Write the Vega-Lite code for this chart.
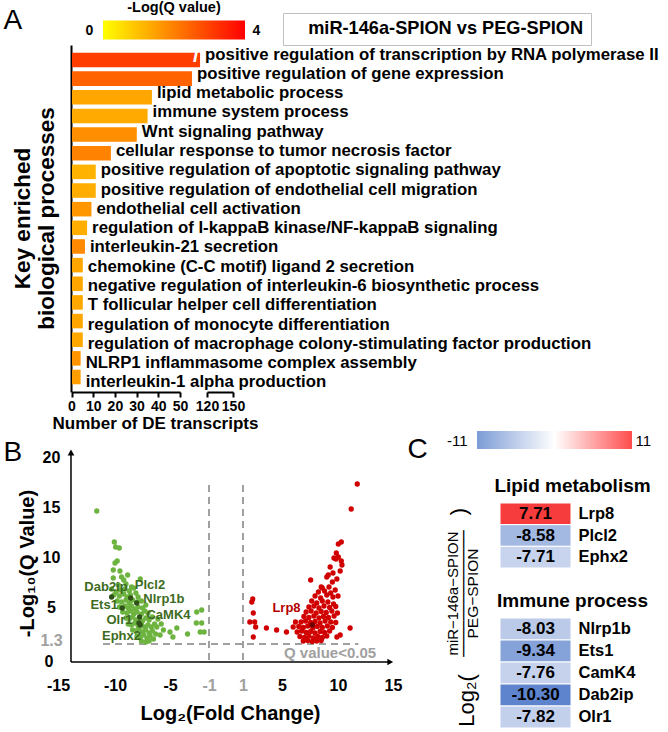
{
"$schema": "https://vega.github.io/schema/vega-lite/v6.json",
"width": 668, "height": 732, "autosize": "none", "padding": 0, "background": "white",
"config": {"view": {"stroke": null}, "font": "Liberation Sans",
  "axis": {"grid": false, "titleColor": "black", "labelColor": "black", "domainColor": "black"},
  "legend": {"titleColor": "black", "labelColor": "black"}},
"datasets": {
 "bars": [
  {"term":"positive regulation of transcription by RNA polymerase II","n":102,"q":3.05},
  {"term":"positive regulation of gene expression","n":81,"q":2.45},
  {"term":"lipid metabolic process","n":37,"q":1.4},
  {"term":"immune system process","n":35,"q":1.33},
  {"term":"Wnt signaling pathway","n":30,"q":1.75},
  {"term":"cellular response to tumor necrosis factor","n":18,"q":1.95},
  {"term":"positive regulation of apoptotic signaling pathway","n":11,"q":1.2},
  {"term":"positive regulation of endothelial cell migration","n":11,"q":1.28},
  {"term":"endothelial cell activation","n":9,"q":1.65},
  {"term":"regulation of I-kappaB kinase/NF-kappaB signaling","n":7,"q":1.27},
  {"term":"interleukin-21 secretion","n":6,"q":1.85},
  {"term":"chemokine (C-C motif) ligand 2 secretion","n":5,"q":1.38},
  {"term":"negative regulation of interleukin-6 biosynthetic process","n":5,"q":1.38},
  {"term":"T follicular helper cell differentiation","n":5,"q":1.35},
  {"term":"regulation of monocyte differentiation","n":5,"q":1.38},
  {"term":"regulation of macrophage colony-stimulating factor production","n":5,"q":1.35},
  {"term":"NLRP1 inflammasome complex assembly","n":4,"q":1.7},
  {"term":"interleukin-1 alpha production","n":4,"q":1.52}
 ],
 "pts": [
  {"lfc":-11.6,"nlq":14.6,"grp":"down"},{"lfc":-10.06,"nlq":11.5,"grp":"down"},{"lfc":-9.94,"nlq":11.0,"grp":"down"},{"lfc":-9.61,"nlq":10.9,"grp":"down"},
  {"lfc":-9.8,"nlq":9.6,"grp":"down"},{"lfc":-10.0,"nlq":9.4,"grp":"down"},{"lfc":-10.15,"nlq":8.7,"grp":"down"},{"lfc":-9.55,"nlq":8.6,"grp":"down"},
  {"lfc":-10.15,"nlq":7.9,"grp":"down"},{"lfc":-9.4,"nlq":8.0,"grp":"down"},{"lfc":-9.2,"nlq":7.7,"grp":"down"},{"lfc":-8.85,"nlq":8.2,"grp":"down"},
  {"lfc":-7.7,"nlq":7.8,"grp":"down"},{"lfc":-8.5,"nlq":7.0,"grp":"down"},{"lfc":-9.0,"nlq":7.3,"grp":"down"},{"lfc":-9.7,"nlq":7.2,"grp":"down"},
  {"lfc":-10.3,"nlq":6.8,"grp":"down"},{"lfc":-9.9,"nlq":6.5,"grp":"down"},{"lfc":-9.5,"nlq":6.7,"grp":"down"},{"lfc":-9.1,"nlq":6.8,"grp":"down"},
  {"lfc":-8.7,"nlq":6.6,"grp":"down"},{"lfc":-8.3,"nlq":6.9,"grp":"down"},{"lfc":-10.1,"nlq":6.2,"grp":"down"},{"lfc":-9.6,"nlq":6.1,"grp":"down"},
  {"lfc":-9.2,"nlq":6.3,"grp":"down"},{"lfc":-8.9,"nlq":6.0,"grp":"down"},{"lfc":-8.6,"nlq":6.2,"grp":"down"},{"lfc":-8.1,"nlq":6.4,"grp":"down"},
  {"lfc":-7.9,"nlq":6.0,"grp":"down"},{"lfc":-9.8,"nlq":5.6,"grp":"down"},{"lfc":-9.4,"nlq":5.5,"grp":"down"},{"lfc":-9.0,"nlq":5.7,"grp":"down"},
  {"lfc":-8.7,"nlq":5.4,"grp":"down"},{"lfc":-8.4,"nlq":5.7,"grp":"down"},{"lfc":-8.0,"nlq":5.5,"grp":"down"},{"lfc":-7.6,"nlq":5.6,"grp":"down"},
  {"lfc":-9.6,"nlq":5.0,"grp":"down"},{"lfc":-9.1,"nlq":5.1,"grp":"down"},{"lfc":-8.8,"nlq":4.9,"grp":"down"},{"lfc":-8.5,"nlq":5.1,"grp":"down"},
  {"lfc":-8.2,"nlq":4.8,"grp":"down"},{"lfc":-7.9,"nlq":5.0,"grp":"down"},{"lfc":-7.5,"nlq":4.9,"grp":"down"},{"lfc":-7.2,"nlq":5.2,"grp":"down"},
  {"lfc":-9.3,"nlq":4.5,"grp":"down"},{"lfc":-8.9,"nlq":4.4,"grp":"down"},{"lfc":-8.6,"nlq":4.6,"grp":"down"},{"lfc":-8.3,"nlq":4.3,"grp":"down"},
  {"lfc":-8.0,"nlq":4.5,"grp":"down"},{"lfc":-7.6,"nlq":4.3,"grp":"down"},{"lfc":-7.3,"nlq":4.6,"grp":"down"},{"lfc":-7.0,"nlq":4.4,"grp":"down"},
  {"lfc":-9.0,"nlq":3.9,"grp":"down"},{"lfc":-8.7,"nlq":3.8,"grp":"down"},{"lfc":-8.4,"nlq":4.0,"grp":"down"},{"lfc":-8.1,"nlq":3.7,"grp":"down"},
  {"lfc":-7.8,"nlq":3.9,"grp":"down"},{"lfc":-7.5,"nlq":3.6,"grp":"down"},{"lfc":-7.2,"nlq":3.9,"grp":"down"},{"lfc":-6.9,"nlq":3.7,"grp":"down"},
  {"lfc":-6.6,"nlq":4.0,"grp":"down"},{"lfc":-8.8,"nlq":3.3,"grp":"down"},{"lfc":-8.5,"nlq":3.2,"grp":"down"},{"lfc":-8.2,"nlq":3.4,"grp":"down"},
  {"lfc":-7.9,"nlq":3.1,"grp":"down"},{"lfc":-7.6,"nlq":3.3,"grp":"down"},{"lfc":-7.3,"nlq":3.0,"grp":"down"},{"lfc":-7.0,"nlq":3.2,"grp":"down"},
  {"lfc":-6.7,"nlq":3.0,"grp":"down"},{"lfc":-6.4,"nlq":3.3,"grp":"down"},{"lfc":-8.4,"nlq":2.7,"grp":"down"},{"lfc":-8.1,"nlq":2.6,"grp":"down"},
  {"lfc":-7.8,"nlq":2.8,"grp":"down"},{"lfc":-7.5,"nlq":2.5,"grp":"down"},{"lfc":-7.2,"nlq":2.7,"grp":"down"},{"lfc":-6.9,"nlq":2.4,"grp":"down"},
  {"lfc":-6.6,"nlq":2.6,"grp":"down"},{"lfc":-6.3,"nlq":2.3,"grp":"down"},{"lfc":-8.0,"nlq":2.1,"grp":"down"},{"lfc":-7.7,"nlq":2.0,"grp":"down"},
  {"lfc":-7.4,"nlq":2.2,"grp":"down"},{"lfc":-7.1,"nlq":1.9,"grp":"down"},{"lfc":-6.8,"nlq":2.1,"grp":"down"},{"lfc":-6.5,"nlq":1.8,"grp":"down"},
  {"lfc":-7.6,"nlq":1.6,"grp":"down"},{"lfc":-7.2,"nlq":1.5,"grp":"down"},{"lfc":-6.9,"nlq":1.6,"grp":"down"},{"lfc":-6.2,"nlq":3.0,"grp":"down"},
  {"lfc":-5.6,"nlq":2.7,"grp":"down"},{"lfc":-5.0,"nlq":2.5,"grp":"down"},{"lfc":-4.3,"nlq":2.9,"grp":"down"},{"lfc":-5.9,"nlq":2.2,"grp":"down"},
  {"lfc":-4.7,"nlq":2.0,"grp":"down"},{"lfc":-2.26,"nlq":4.5,"grp":"down"},{"lfc":-1.75,"nlq":4.7,"grp":"down"},{"lfc":-2.3,"nlq":3.4,"grp":"down"},
  {"lfc":-1.75,"nlq":3.4,"grp":"down"},{"lfc":-1.9,"nlq":2.5,"grp":"down"},{"lfc":-1.5,"nlq":2.5,"grp":"down"},{"lfc":-3.2,"nlq":2.3,"grp":"down"},
  {"lfc":-6.1,"nlq":3.8,"grp":"down"},{"lfc":-5.8,"nlq":3.3,"grp":"down"},
  {"lfc":1.9,"nlq":5.5,"grp":"up"},{"lfc":2.0,"nlq":5.8,"grp":"up"},{"lfc":2.06,"nlq":4.4,"grp":"up"},{"lfc":2.2,"nlq":3.5,"grp":"up"},
  {"lfc":1.7,"nlq":3.5,"grp":"up"},{"lfc":2.3,"nlq":3.0,"grp":"up"},{"lfc":3.4,"nlq":2.9,"grp":"up"},{"lfc":4.45,"nlq":2.7,"grp":"up"},
  {"lfc":5.4,"nlq":2.5,"grp":"up"},{"lfc":6.0,"nlq":3.0,"grp":"up"},{"lfc":6.2,"nlq":3.5,"grp":"up"},{"lfc":2.06,"nlq":2.0,"grp":"up"},
  {"lfc":11.1,"nlq":2.9,"grp":"up"},{"lfc":10.2,"nlq":2.2,"grp":"up"},{"lfc":9.9,"nlq":2.0,"grp":"up"},
  {"lfc":11.75,"nlq":17.3,"grp":"up"},{"lfc":11.2,"nlq":14.8,"grp":"up"},{"lfc":10.03,"nlq":11.3,"grp":"up"},{"lfc":10.3,"nlq":11.5,"grp":"up"},
  {"lfc":9.85,"nlq":10.4,"grp":"up"},{"lfc":9.64,"nlq":9.9,"grp":"up"},{"lfc":9.82,"nlq":9.8,"grp":"up"},{"lfc":10.03,"nlq":10.0,"grp":"up"},
  {"lfc":10.3,"nlq":9.6,"grp":"up"},{"lfc":9.3,"nlq":9.0,"grp":"up"},{"lfc":10.2,"nlq":8.6,"grp":"up"},{"lfc":9.13,"nlq":8.2,"grp":"up"},
  {"lfc":9.0,"nlq":8.0,"grp":"up"},{"lfc":9.9,"nlq":7.8,"grp":"up"},{"lfc":9.5,"nlq":7.5,"grp":"up"},{"lfc":7.56,"nlq":7.7,"grp":"up"},
  {"lfc":8.5,"nlq":7.0,"grp":"up"},{"lfc":8.6,"nlq":6.9,"grp":"up"},{"lfc":9.2,"nlq":7.0,"grp":"up"},{"lfc":9.55,"nlq":8.4,"grp":"up"},
  {"lfc":10.36,"nlq":9.2,"grp":"up"},
  {"lfc":8.25,"nlq":6.5,"grp":"up"},{"lfc":8.8,"nlq":6.6,"grp":"up"},{"lfc":9.35,"nlq":6.4,"grp":"up"},{"lfc":9.75,"nlq":6.7,"grp":"up"},
  {"lfc":7.95,"nlq":6.1,"grp":"up"},{"lfc":8.45,"nlq":5.9,"grp":"up"},{"lfc":9.0,"nlq":6.2,"grp":"up"},{"lfc":9.55,"nlq":6.0,"grp":"up"},
  {"lfc":10.0,"nlq":6.1,"grp":"up"},{"lfc":7.65,"nlq":5.6,"grp":"up"},{"lfc":8.1,"nlq":5.4,"grp":"up"},{"lfc":8.6,"nlq":5.6,"grp":"up"},
  {"lfc":9.1,"nlq":5.5,"grp":"up"},{"lfc":9.6,"nlq":5.3,"grp":"up"},{"lfc":7.4,"nlq":5.0,"grp":"up"},{"lfc":7.85,"nlq":5.1,"grp":"up"},
  {"lfc":8.3,"nlq":4.9,"grp":"up"},{"lfc":8.75,"nlq":5.1,"grp":"up"},{"lfc":9.25,"nlq":4.95,"grp":"up"},{"lfc":9.8,"nlq":5.05,"grp":"up"},
  {"lfc":7.15,"nlq":4.5,"grp":"up"},{"lfc":7.6,"nlq":4.6,"grp":"up"},{"lfc":8.05,"nlq":4.4,"grp":"up"},{"lfc":8.5,"nlq":4.55,"grp":"up"},
  {"lfc":8.95,"nlq":4.45,"grp":"up"},{"lfc":9.45,"nlq":4.6,"grp":"up"},{"lfc":9.95,"nlq":4.4,"grp":"up"},{"lfc":6.95,"nlq":4.05,"grp":"up"},
  {"lfc":7.4,"nlq":3.95,"grp":"up"},{"lfc":7.85,"nlq":4.1,"grp":"up"},{"lfc":8.3,"nlq":3.9,"grp":"up"},{"lfc":8.7,"nlq":4.05,"grp":"up"},
  {"lfc":9.15,"nlq":3.95,"grp":"up"},{"lfc":9.65,"nlq":4.1,"grp":"up"},{"lfc":6.7,"nlq":3.5,"grp":"up"},{"lfc":7.1,"nlq":3.6,"grp":"up"},
  {"lfc":7.55,"nlq":3.45,"grp":"up"},{"lfc":7.95,"nlq":3.55,"grp":"up"},{"lfc":8.4,"nlq":3.4,"grp":"up"},{"lfc":8.85,"nlq":3.6,"grp":"up"},
  {"lfc":9.35,"nlq":3.5,"grp":"up"},{"lfc":9.8,"nlq":3.45,"grp":"up"},{"lfc":6.5,"nlq":3.05,"grp":"up"},{"lfc":6.9,"nlq":2.95,"grp":"up"},
  {"lfc":7.3,"nlq":3.1,"grp":"up"},{"lfc":7.75,"nlq":2.9,"grp":"up"},{"lfc":8.15,"nlq":3.05,"grp":"up"},{"lfc":8.6,"nlq":2.95,"grp":"up"},
  {"lfc":9.05,"nlq":3.1,"grp":"up"},{"lfc":9.5,"nlq":2.95,"grp":"up"},{"lfc":6.35,"nlq":2.5,"grp":"up"},{"lfc":6.75,"nlq":2.6,"grp":"up"},
  {"lfc":7.15,"nlq":2.45,"grp":"up"},{"lfc":7.55,"nlq":2.55,"grp":"up"},{"lfc":7.95,"nlq":2.4,"grp":"up"},{"lfc":8.4,"nlq":2.55,"grp":"up"},
  {"lfc":8.8,"nlq":2.45,"grp":"up"},{"lfc":9.25,"nlq":2.6,"grp":"up"},{"lfc":6.6,"nlq":2.05,"grp":"up"},{"lfc":7.0,"nlq":1.95,"grp":"up"},
  {"lfc":7.4,"nlq":2.1,"grp":"up"},{"lfc":7.8,"nlq":1.9,"grp":"up"},{"lfc":8.2,"nlq":2.05,"grp":"up"},{"lfc":8.6,"nlq":1.95,"grp":"up"},
  {"lfc":9.0,"nlq":2.1,"grp":"up"},{"lfc":6.9,"nlq":1.6,"grp":"up"},{"lfc":7.3,"nlq":1.65,"grp":"up"},{"lfc":7.7,"nlq":1.55,"grp":"up"},
  {"lfc":8.1,"nlq":1.6,"grp":"up"},{"lfc":8.5,"nlq":1.65,"grp":"up"},
  {"lfc":-10.30,"nlq":6.0,"grp":"downKey","gene":"Dab2ip"},{"lfc":-8.58,"nlq":5.9,"grp":"downKey","gene":"Plcl2"},
  {"lfc":-8.03,"nlq":5.4,"grp":"downKey","gene":"Nlrp1b"},{"lfc":-9.34,"nlq":4.9,"grp":"downKey","gene":"Ets1"},
  {"lfc":-7.76,"nlq":4.0,"grp":"downKey","gene":"CaMK4"},{"lfc":-7.82,"nlq":3.4,"grp":"downKey","gene":"Olr1"},
  {"lfc":-7.71,"nlq":3.2,"grp":"downKey","gene":"Ephx2"},{"lfc":7.71,"nlq":3.2,"grp":"upKey","gene":"Lrp8"}
 ],
 "blab": [
  {"gene":"Dab2ip","lx":-10.79,"ly":7.0,"grp":"downKey"},
  {"gene":"Plcl2","lx":-6.82,"ly":7.2,"grp":"downKey"},
  {"gene":"Nlrp1b","lx":-5.55,"ly":5.8,"grp":"downKey"},
  {"gene":"Ets1","lx":-10.95,"ly":5.2,"grp":"downKey"},
  {"gene":"CaMK4","lx":-5.14,"ly":4.2,"grp":"downKey"},
  {"gene":"Olr1","lx":-9.59,"ly":3.7,"grp":"downKey"},
  {"gene":"Ephx2","lx":-9.41,"ly":2.15,"grp":"downKey"},
  {"gene":"Lrp8","lx":5.4,"ly":4.9,"grp":"upKey"}
 ],
 "lipid": [
  {"gene":"Lrp8","lfc":7.71,"grp":"Lipid metabolism"},
  {"gene":"Plcl2","lfc":-8.58,"grp":"Lipid metabolism"},
  {"gene":"Ephx2","lfc":-7.71,"grp":"Lipid metabolism"}
 ],
 "immune": [
  {"gene":"Nlrp1b","lfc":-8.03,"grp":"Immune process"},
  {"gene":"Ets1","lfc":-9.34,"grp":"Immune process"},
  {"gene":"CamK4","lfc":-7.76,"grp":"Immune process"},
  {"gene":"Dab2ip","lfc":-10.30,"grp":"Immune process"},
  {"gene":"Olr1","lfc":-7.82,"grp":"Immune process"}
 ]
},
"layer": [
 {"data": {"name": "bars"},
  "mark": {"type": "bar"},
  "encoding": {
   "y": {"field": "term", "type": "nominal", "sort": null,
     "scale": {"range": [45, 392], "paddingInner": 0.22, "paddingOuter": 0.414},
     "axis": {"orient": "left", "offset": -71, "domainColor": "black", "domainWidth": 2, "ticks": false, "labels": false,
       "title": ["Key enriched", "biological processes"], "titleFontSize": 22.5, "titleFontWeight": "bold", "titleX": -49, "titleY": 218,
       "titleAngle": -90, "titleAlign": "center", "titleBaseline": "middle", "titleLineHeight": 24}},
   "x": {"field": "n", "type": "quantitative", "scale": {"type": "linear", "domain": [0, 50, 120, 150], "range": [72, 180, 207, 233], "nice": false, "zero": false}, "axis": null},
   "color": {"field": "q", "type": "quantitative", "scale": {"type": "linear", "domain": [0, 4], "range": ["#ffff00", "#ff0000"], "interpolate": "rgb"},
     "legend": {"orient": "none", "legendX": 103, "legendY": 1, "direction": "horizontal", "title": "-Log(Q value)", "titleFontSize": 14.5, "titleFontWeight": "bold", "titleAnchor": "middle", "titlePadding": 5,
       "gradientLength": 142, "gradientThickness": 19, "gradientStrokeWidth": 0, "values": [0, 4], "labelExpr": "''", "labelOpacity": 0, "padding": 0}}
  }},
 {"data": {"name": "bars"},
  "mark": {"type": "text", "align": "left", "baseline": "middle", "dx": 5, "fontSize": 16.8, "fontWeight": "bold", "color": "black"},
  "encoding": {
   "y": {"field": "term", "type": "nominal", "sort": null, "scale": {"range": [45, 392], "paddingInner": 0.22, "paddingOuter": 0.414}, "axis": null},
   "x": {"field": "n", "type": "quantitative", "scale": {"type": "linear", "domain": [0, 50, 120, 150], "range": [72, 180, 207, 233], "nice": false, "zero": false}, "axis": null},
   "text": {"field": "term"}}},
 {"data": {"name": "bars"},
  "mark": {"type": "text", "align": "center", "baseline": "middle", "dx": -4, "fontSize": 22, "fontWeight": "bold", "color": "white"},
  "encoding": {
   "y": {"field": "term", "type": "nominal", "sort": null, "scale": {"range": [45, 392], "paddingInner": 0.22, "paddingOuter": 0.414}, "axis": null},
   "x": {"field": "n", "type": "quantitative", "scale": {"type": "linear", "domain": [0, 50, 120, 150], "range": [72, 180, 207, 233], "nice": false, "zero": false}, "axis": null},
   "text": {"condition": {"test": "datum.n > 100", "value": "/"}, "value": ""}}},
 {"data": {"values": [{"t": 0}, {"t": 50}]},
  "mark": {"type": "point", "opacity": 0, "size": 0},
  "encoding": {"x": {"field": "t", "type": "quantitative", "scale": {"domain": [0, 50], "range": [71.5, 180], "nice": false, "zero": false},
    "axis": {"orient": "bottom", "offset": -340, "values": [0, 10, 20, 30, 40, 50], "domainColor": "black", "domainWidth": 2, "tickColor": "black", "tickWidth": 2, "tickSize": 5,
      "labelFontSize": 14, "labelFontWeight": "bold", "labelPadding": 2, "labelFlush": false, "labelOverlap": false,
      "title": "Number of DE transcripts", "titleFontSize": 17, "titleFontWeight": "bold", "titleX": 155, "titleY": 31, "titleAlign": "center", "titleBaseline": "middle"}}}},
 {"data": {"values": [{"t": 120}, {"t": 150}]},
  "mark": {"type": "point", "opacity": 0, "size": 0},
  "encoding": {"x": {"field": "t", "type": "quantitative", "scale": {"domain": [120, 150], "range": [207, 233], "nice": false, "zero": false},
    "axis": {"orient": "bottom", "offset": -340, "values": [120, 150], "domainColor": "black", "domainWidth": 2, "tickColor": "black", "tickWidth": 2, "tickSize": 5,
      "labelFontSize": 14, "labelFontWeight": "bold", "labelPadding": 2, "labelFlush": false, "labelOverlap": false, "title": null}}}},
 {"data": {"values": [{"lfc": -1}, {"lfc": 1}]},
  "mark": {"type": "rule", "strokeDash": [7, 5], "strokeWidth": 2, "color": "#a0a0a0"},
  "encoding": {
   "x": {"field": "lfc", "type": "quantitative", "scale": {"type": "linear", "domain": [-15, -10, -5, -1, 1, 5, 10, 15], "range": [58, 115, 170, 209, 243, 282, 338, 393], "nice": false, "zero": false}, "axis": null},
   "y": {"datum": -0.3, "scale": {"type": "linear", "domain": [-0.5, 20.8], "range": [662, 449], "nice": false, "zero": false}, "axis": null},
   "y2": {"datum": 17.4}}},
 {"data": {"values": [{}]},
  "mark": {"type": "rule", "strokeDash": [7, 5], "strokeWidth": 2, "color": "#a0a0a0"},
  "encoding": {
   "x": {"datum": -11.05, "scale": {"type": "linear", "domain": [-15, -10, -5, -1, 1, 5, 10, 15], "range": [58, 115, 170, 209, 243, 282, 338, 393], "nice": false, "zero": false}, "axis": null},
   "x2": {"datum": 11.85},
   "y": {"datum": 1.3, "scale": {"type": "linear", "domain": [-0.5, 20.8], "range": [662, 449], "nice": false, "zero": false}, "axis": null}}},
 {"data": {"values": [{}]},
  "mark": {"type": "rule", "strokeWidth": 1.5, "color": "black"},
  "encoding": {
   "x": {"datum": -13.86, "scale": {"type": "linear", "domain": [-15, -10, -5, -1, 1, 5, 10, 15], "range": [58, 115, 170, 209, 243, 282, 338, 393], "nice": false, "zero": false}, "axis": null},
   "y": {"datum": -0.5, "scale": {"type": "linear", "domain": [-0.5, 20.8], "range": [662, 449], "nice": false, "zero": false}, "axis": null},
   "y2": {"datum": 20.3}}},
 {"data": {"values": [{}]},
  "mark": {"type": "rule", "strokeWidth": 1.5, "color": "black"},
  "encoding": {
   "x": {"datum": -13.86, "scale": {"type": "linear", "domain": [-15, -10, -5, -1, 1, 5, 10, 15], "range": [58, 115, 170, 209, 243, 282, 338, 393], "nice": false, "zero": false}, "axis": null},
   "x2": {"datum": 14.6},
   "y": {"datum": -0.5, "scale": {"type": "linear", "domain": [-0.5, 20.8], "range": [662, 449], "nice": false, "zero": false}, "axis": null}}},
 {"data": {"values": [{}]},
  "mark": {"type": "point", "shape": "triangle-up", "filled": true, "color": "black", "size": 45, "opacity": 1},
  "encoding": {
   "x": {"datum": -13.86, "scale": {"type": "linear", "domain": [-15, -10, -5, -1, 1, 5, 10, 15], "range": [58, 115, 170, 209, 243, 282, 338, 393], "nice": false, "zero": false}, "axis": null},
   "y": {"datum": 20.45, "scale": {"type": "linear", "domain": [-0.5, 20.8], "range": [662, 449], "nice": false, "zero": false}, "axis": null}}},
 {"data": {"values": [{}]},
  "mark": {"type": "point", "shape": "triangle-right", "filled": true, "color": "black", "size": 45, "opacity": 1},
  "encoding": {
   "x": {"datum": 14.75, "scale": {"type": "linear", "domain": [-15, -10, -5, -1, 1, 5, 10, 15], "range": [58, 115, 170, 209, 243, 282, 338, 393], "nice": false, "zero": false}, "axis": null},
   "y": {"datum": -0.5, "scale": {"type": "linear", "domain": [-0.5, 20.8], "range": [662, 449], "nice": false, "zero": false}, "axis": null}}},
 {"data": {"name": "pts"},
  "mark": {"type": "circle", "size": 28, "opacity": 1},
  "encoding": {
   "x": {"field": "lfc", "type": "quantitative", "title": "Log₂(Fold Change)",
     "scale": {"type": "linear", "domain": [-15, -10, -5, -1, 1, 5, 10, 15], "range": [58, 115, 170, 209, 243, 282, 338, 393], "nice": false, "zero": false},
     "axis": {"orient": "bottom", "offset": -70, "values": [-15, -10, -5, -1, 1, 5, 10, 15], "domain": false, "ticks": false, "tickSize": 0, "labelPadding": 15,
       "labelFontSize": 16, "labelFontWeight": "bold", "labelExpr": "'' + datum.value", "labelFlush": false, "labelOverlap": false,
       "labelColor": {"condition": {"test": "abs(datum.value) == 1", "value": "#a0a0a0"}, "value": "black"},
       "titleFontSize": 20, "titleFontWeight": "bold", "titleX": 230, "titleY": 51, "titleAlign": "center", "titleBaseline": "middle"}},
   "y": {"field": "nlq", "type": "quantitative", "title": "-Log₁₀(Q Value)",
     "scale": {"type": "linear", "domain": [-0.5, 20.8], "range": [662, 449], "nice": false, "zero": false},
     "axis": {"orient": "left", "offset": -71, "values": [5, 10, 15, 20], "domain": false, "ticks": false, "tickSize": 0, "labelPadding": 20, "labelAlign": "center",
       "labelFontSize": 16, "labelFontWeight": "bold", "format": "d", "labelOverlap": false,
       "titleFontSize": 20, "titleFontWeight": "bold", "titleX": -44, "titleY": 563, "titleAngle": -90, "titleAlign": "center", "titleBaseline": "middle"}},
   "color": {"field": "grp", "type": "nominal", "scale": {"domain": ["down", "up", "downKey", "upKey"], "range": ["#6DB33F", "#D00000", "#2F5219", "#6E0000"]}, "legend": null}}},
 {"data": {"values": [{"v": 0}, {"v": 1.3}]},
  "mark": {"type": "point", "opacity": 0, "size": 0},
  "encoding": {
   "y": {"field": "v", "type": "quantitative",
     "scale": {"type": "linear", "domain": [0, 1.3, 20.8], "range": [661, 640, 449], "nice": false, "zero": false},
     "axis": {"orient": "left", "offset": -71, "values": [1.3], "domain": false, "ticks": false, "tickSize": 0, "labelPadding": 20, "labelAlign": "center",
       "labelFontSize": 16, "labelFontWeight": "bold", "format": ".1~f", "labelOverlap": false, "labelColor": "#a0a0a0", "title": null}}}},
 {"data": {"values": [{}]},
  "mark": {"type": "text", "text": "0", "fontSize": 16, "fontWeight": "bold", "color": "black", "align": "center", "baseline": "middle"},
  "encoding": {
   "x": {"datum": -15.8, "scale": {"type": "linear", "domain": [-15, -10, -5, -1, 1, 5, 10, 15], "range": [58, 115, 170, 209, 243, 282, 338, 393], "nice": false, "zero": false}, "axis": null},
   "y": {"datum": -0.5, "scale": {"type": "linear", "domain": [-0.5, 20.8], "range": [662, 449], "nice": false, "zero": false}, "axis": null}}},
 {"data": {"name": "blab"},
  "mark": {"type": "text", "fontSize": 13, "fontWeight": "bold", "align": "center", "baseline": "middle"},
  "encoding": {
   "x": {"field": "lx", "type": "quantitative", "scale": {"type": "linear", "domain": [-15, -10, -5, -1, 1, 5, 10, 15], "range": [58, 115, 170, 209, 243, 282, 338, 393], "nice": false, "zero": false}, "axis": null},
   "y": {"field": "ly", "type": "quantitative", "scale": {"type": "linear", "domain": [-0.5, 20.8], "range": [662, 449], "nice": false, "zero": false}, "axis": null},
   "text": {"field": "gene"},
   "fill": {"field": "grp", "type": "nominal", "scale": {"domain": ["downKey", "upKey"], "range": ["#3D6B22", "#B40000"]}, "legend": null}}},
 {"data": {"values": [{}]},
  "mark": {"type": "text", "text": "Q value<0.05", "fontSize": 15, "fontWeight": "bold", "color": "#a0a0a0", "align": "center", "baseline": "middle"},
  "encoding": {
   "x": {"datum": 9.29, "scale": {"type": "linear", "domain": [-15, -10, -5, -1, 1, 5, 10, 15], "range": [58, 115, 170, 209, 243, 282, 338, 393], "nice": false, "zero": false}, "axis": null},
   "y": {"datum": 0.4, "scale": {"type": "linear", "domain": [-0.5, 20.8], "range": [662, 449], "nice": false, "zero": false}, "axis": null}}},
 {"data": {"name": "lipid"},
  "mark": {"type": "rect", "stroke": "white", "strokeWidth": 1},
  "encoding": {
   "x": {"field": "grp", "type": "nominal", "scale": {"range": [500, 571], "paddingInner": 0, "paddingOuter": 0},
     "axis": {"orient": "top", "offset": 0, "domain": false, "ticks": false, "labels": false, "title": "Lipid metabolism", "titleX": 572, "titleY": 485, "titleAngle": 0,
       "titleAlign": "center", "titleBaseline": "middle", "titleFontSize": 19, "titleFontWeight": "bold"}},
   "y": {"field": "gene", "type": "nominal", "sort": null, "scale": {"domain": ["Lrp8", "Plcl2", "Ephx2"], "range": [503, 568], "paddingInner": 0, "paddingOuter": 0},
     "axis": {"orient": "right", "offset": -97, "domain": false, "ticks": false, "labelPadding": 7, "labelFontSize": 16.5, "labelFontWeight": "bold", "title": null}},
   "color": {"field": "lfc", "type": "quantitative", "scale": {"type": "linear", "domain": [-10.3, -7.7, 0, 7.71], "range": ["#5E84CD", "#C8D4ED", "#FFFFFF", "#F63C3C"], "interpolate": "rgb"}, "legend": null}}},
 {"data": {"name": "lipid"},
  "mark": {"type": "text", "fontSize": 17, "fontWeight": "bold", "color": "black", "text": {"expr": "replace(format(datum.lfc, '.2f'), '\u2212', '-')"}},
  "encoding": {
   "x": {"field": "grp", "type": "nominal", "scale": {"range": [500, 571], "paddingInner": 0, "paddingOuter": 0}, "axis": null},
   "y": {"field": "gene", "type": "nominal", "sort": null, "scale": {"domain": ["Lrp8", "Plcl2", "Ephx2"], "range": [503, 568], "paddingInner": 0, "paddingOuter": 0}, "axis": null}}},
 {"data": {"name": "immune"},
  "mark": {"type": "rect", "stroke": "white", "strokeWidth": 1},
  "encoding": {
   "x": {"field": "grp", "type": "nominal", "scale": {"range": [500, 571], "paddingInner": 0, "paddingOuter": 0},
     "axis": {"orient": "top", "offset": 0, "domain": false, "ticks": false, "labels": false, "title": "Immune process", "titleX": 572, "titleY": 600, "titleAngle": 0,
       "titleAlign": "center", "titleBaseline": "middle", "titleFontSize": 19, "titleFontWeight": "bold"}},
   "y": {"field": "gene", "type": "nominal", "sort": null, "scale": {"domain": ["Nlrp1b", "Ets1", "CamK4", "Dab2ip", "Olr1"], "range": [618, 728], "paddingInner": 0, "paddingOuter": 0},
     "axis": {"orient": "right", "offset": -97, "domain": false, "ticks": false, "labelPadding": 7, "labelFontSize": 16.5, "labelFontWeight": "bold", "title": null}},
   "color": {"field": "lfc", "type": "quantitative", "scale": {"type": "linear", "domain": [-10.3, -7.7, 0, 7.71], "range": ["#5E84CD", "#C8D4ED", "#FFFFFF", "#F63C3C"], "interpolate": "rgb"}, "legend": null}}},
 {"data": {"name": "immune"},
  "mark": {"type": "text", "fontSize": 17, "fontWeight": "bold", "color": "black", "text": {"expr": "replace(format(datum.lfc, '.2f'), '\u2212', '-')"}},
  "encoding": {
   "x": {"field": "grp", "type": "nominal", "scale": {"range": [500, 571], "paddingInner": 0, "paddingOuter": 0}, "axis": null},
   "y": {"field": "gene", "type": "nominal", "sort": null, "scale": {"domain": ["Nlrp1b", "Ets1", "CamK4", "Dab2ip", "Olr1"], "range": [618, 728], "paddingInner": 0, "paddingOuter": 0}, "axis": null}}},
 {"data": {"values": [{"v": -11}, {"v": 11}]},
  "mark": {"type": "circle", "size": 0},
  "encoding": {"color": {"field": "v", "type": "quantitative", "scale": {"type": "linear", "domain": [-11, 0, 11], "range": ["#4472C4", "#FFFFFF", "#FF0000"], "interpolate": "rgb"},
    "legend": {"orient": "none", "legendX": 477, "legendY": 431, "direction": "horizontal", "title": null, "gradientLength": 155, "gradientThickness": 18, "gradientStrokeWidth": 0,
      "values": [-11, 11], "labelExpr": "''", "labelOpacity": 0, "padding": 0}}}},
 {"data": {"values": [{"lab": "miR-146a-SPION vs PEG-SPION"}]},
  "mark": {"type": "point", "size": 0, "opacity": 0},
  "encoding": {"shape": {"field": "lab", "type": "nominal",
    "legend": {"orient": "none", "legendX": 283, "legendY": 13, "title": null, "padding": 7, "strokeColor": "#c0c0c0", "fillColor": "white",
      "symbolSize": 16, "symbolOpacity": 0, "symbolStrokeWidth": 0, "labelOffset": 0, "labelFontSize": 18.2, "labelFontWeight": "bold", "labelLimit": 400}}}},
 {"data": {"values": [{"v": 0}, {"v": 1}]},
  "mark": {"type": "point", "size": 0, "opacity": 0},
  "encoding": {
   "x": {"field": "v", "type": "quantitative", "axis": {"orient": "top", "offset": 0, "domain": false, "ticks": false, "labels": false, "title": "A", "titleX": 3, "titleY": 28, "titleAngle": 0, "titleAlign": "left", "titleBaseline": "alphabetic", "titleFontSize": 28, "titleFontWeight": "normal"}},
   "y": {"field": "v", "type": "quantitative", "axis": {"orient": "left", "offset": 0, "domain": false, "ticks": false, "labels": false, "title": "B", "titleX": 3, "titleY": 460, "titleAngle": 0, "titleAlign": "left", "titleBaseline": "alphabetic", "titleFontSize": 28, "titleFontWeight": "normal"}}}},
 {"data": {"values": [{"v": 0}, {"v": 1}]},
  "mark": {"type": "point", "size": 0, "opacity": 0},
  "encoding": {
   "x": {"field": "v", "type": "quantitative", "axis": {"orient": "top", "offset": 0, "domain": false, "ticks": false, "labels": false, "title": "C", "titleX": 407, "titleY": 457, "titleAngle": 0, "titleAlign": "left", "titleBaseline": "alphabetic", "titleFontSize": 28, "titleFontWeight": "normal"}},
   "y": {"field": "v", "type": "quantitative", "axis": {"orient": "left", "offset": 0, "domain": false, "ticks": false, "labels": false, "title": "Log₂(", "titleX": 466, "titleY": 700, "titleAngle": -90, "titleAlign": "center", "titleBaseline": "middle", "titleFontSize": 22, "titleFontWeight": "normal"}}}},
 {"data": {"values": [{"v": 0}, {"v": 1}]},
  "mark": {"type": "point", "size": 0, "opacity": 0},
  "encoding": {
   "x": {"field": "v", "type": "quantitative", "axis": {"orient": "top", "offset": 0, "domain": false, "ticks": false, "labels": false, "title": ")", "titleX": 458, "titleY": 511, "titleAngle": -90, "titleAlign": "center", "titleBaseline": "middle", "titleFontSize": 22, "titleFontWeight": "normal"}},
   "y": {"field": "v", "type": "quantitative", "axis": {"orient": "left", "offset": 0, "domain": false, "ticks": false, "labels": false, "title": "miR−146a−SPION", "titleX": 452, "titleY": 593, "titleAngle": -90, "titleAlign": "center", "titleBaseline": "middle", "titleFontSize": 15, "titleFontWeight": "normal"}}}},
 {"data": {"values": [{"v": 0}, {"v": 1}]},
  "mark": {"type": "point", "size": 0, "opacity": 0},
  "encoding": {
   "x": {"field": "v", "type": "quantitative", "axis": {"orient": "top", "offset": 0, "domain": false, "ticks": false, "labels": false, "title": "──────────────", "titleFont": "DejaVu Sans", "titleX": 463, "titleY": 593, "titleAngle": -90, "titleAlign": "center", "titleBaseline": "middle", "titleFontSize": 15, "titleFontWeight": "normal"}},
   "y": {"field": "v", "type": "quantitative", "axis": {"orient": "left", "offset": 0, "domain": false, "ticks": false, "labels": false, "title": "PEG−SPION", "titleX": 472, "titleY": 593, "titleAngle": -90, "titleAlign": "center", "titleBaseline": "middle", "titleFontSize": 15.5, "titleFontWeight": "normal"}}}},
 {"data": {"values": [{"v": 0}, {"v": 1}]},
  "mark": {"type": "point", "size": 0, "opacity": 0},
  "encoding": {
   "x": {"field": "v", "type": "quantitative", "axis": {"orient": "top", "offset": 0, "domain": false, "ticks": false, "labels": false, "title": "0", "titleX": 89, "titleY": 30, "titleAngle": 0, "titleAlign": "center", "titleBaseline": "middle", "titleFontSize": 14, "titleFontWeight": "bold"}},
   "y": {"field": "v", "type": "quantitative", "axis": {"orient": "left", "offset": 0, "domain": false, "ticks": false, "labels": false, "title": "4", "titleX": 256, "titleY": 30, "titleAngle": 0, "titleAlign": "center", "titleBaseline": "middle", "titleFontSize": 14, "titleFontWeight": "bold"}}}},
 {"data": {"values": [{"v": 0}, {"v": 1}]},
  "mark": {"type": "point", "size": 0, "opacity": 0},
  "encoding": {
   "x": {"field": "v", "type": "quantitative", "axis": {"orient": "top", "offset": 0, "domain": false, "ticks": false, "labels": false, "title": "-11", "titleX": 467, "titleY": 440, "titleAngle": 0, "titleAlign": "right", "titleBaseline": "middle", "titleFontSize": 15, "titleFontWeight": "normal"}},
   "y": {"field": "v", "type": "quantitative", "axis": {"orient": "left", "offset": 0, "domain": false, "ticks": false, "labels": false, "title": "11", "titleX": 635, "titleY": 440, "titleAngle": 0, "titleAlign": "left", "titleBaseline": "middle", "titleFontSize": 15, "titleFontWeight": "normal"}}}}
],
"resolve": {
 "scale": {"x": "independent", "y": "independent", "color": "independent", "shape": "independent", "fill": "independent"},
 "axis": {"x": "independent", "y": "independent"},
 "legend": {"color": "independent", "shape": "independent"}
}
}
